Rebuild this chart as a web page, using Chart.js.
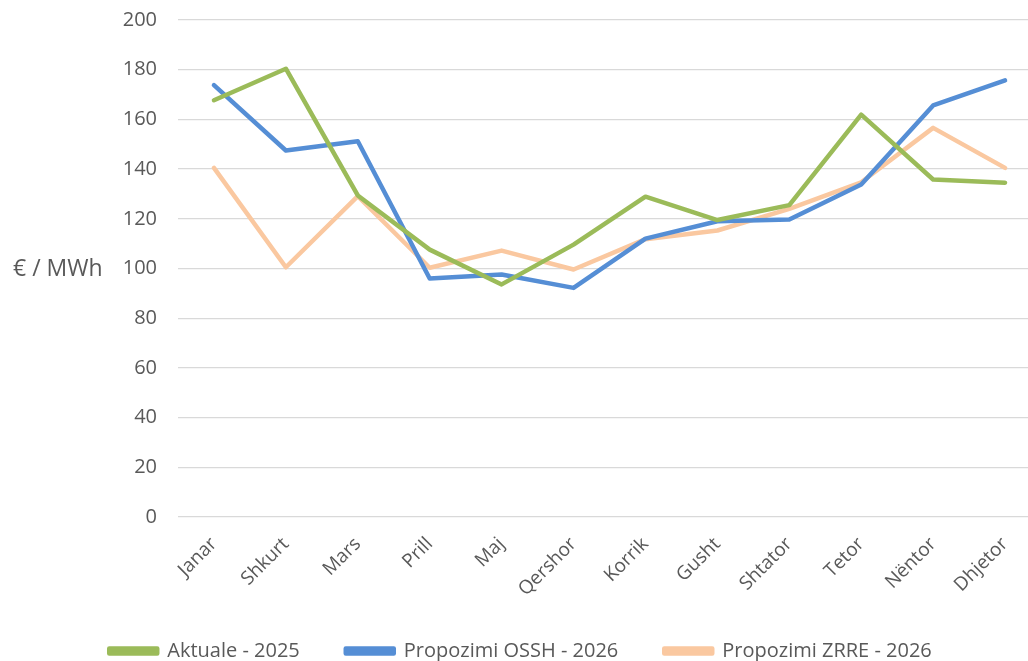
<!DOCTYPE html>
<html>
<head>
<meta charset="utf-8">
<script src="https://cdn.jsdelivr.net/npm/chart.js@4"></script>
<style>
    html, body { margin: 0; padding: 0; background: #fff; overflow: hidden; }
    .chart-box { position: relative; width: 1041px; height: 661px; }
</style>
</head>
<body>
<div class="chart-box"><canvas id="priceChart"></canvas></div>
<script>
// Months and monthly prices (€ / MWh)
const months = ['Janar', 'Shkurt', 'Mars', 'Prill', 'Maj', 'Qershor', 'Korrik', 'Gusht', 'Shtator', 'Tetor', 'Nëntor', 'Dhjetor'];
const aktuale2025 = [167.7, 180.4, 129.4, 107.6, 93.6, 109.6, 128.9, 119.5, 125.5, 161.9, 135.8, 134.5];
const ossh2026 = [173.8, 147.5, 151.2, 96.0, 97.6, 92.2, 112.0, 119.0, 119.7, 133.8, 165.6, 175.7];
const zrre2026 = [140.5, 100.5, 129.1, 100.3, 107.2, 99.6, 111.8, 115.3, 124.0, 134.7, 156.6, 140.5];
const yTicks = [0, 20, 40, 60, 80, 100, 120, 140, 160, 180, 200];

const fontFamily = "'Open Sans', sans-serif";
const textColor = '#595959';

// y axis title drawn horizontally on the left, like the original
const yTitle = {
    id: 'yTitle',
    afterDraw(chart) {
        const ctx = chart.ctx;
        const area = chart.chartArea;
        ctx.save();
        ctx.font = '23px ' + fontFamily;
        ctx.fillStyle = textColor;
        ctx.textAlign = 'left';
        ctx.textBaseline = 'middle';
        ctx.fillText('€ / MWh', 13, (area.top + area.bottom) / 2 + 1);
        ctx.restore();
    }
};

function lineSet(label, data, color) {
    return {
        label: label,
        data: data,
        borderColor: color,
        backgroundColor: color,
        borderWidth: 4.5,
        borderCapStyle: 'round',
        borderJoinStyle: 'round',
        pointRadius: 0,
        pointHoverRadius: 0,
        tension: 0,
        fill: false
    };
}

new Chart(document.getElementById('priceChart'), {
    type: 'line',
    data: {
        labels: months,
        datasets: [
            lineSet('Aktuale - 2025', aktuale2025, '#9bbb59'),
            lineSet('Propozimi OSSH - 2026', ossh2026, '#558ed5'),
            lineSet('Propozimi ZRRE - 2026', zrre2026, '#fac8a0')
        ]
    },
    options: {
        responsive: true,
        maintainAspectRatio: false,
        animation: false,
        layout: { padding: { top: 20, right: 0, bottom: -10, left: 0 } },
        plugins: {
            legend: {
                position: 'bottom',
                labels: {
                    color: textColor,
                    font: { family: fontFamily, size: 20 },
                    boxWidth: 48,
                    boxHeight: 5,
                    padding: 46
                }
            },
            tooltip: { enabled: false }
        },
        scales: {
            x: {
                offset: true,
                grid: { display: false },
                border: { display: false },
                ticks: {
                    color: textColor,
                    font: { family: fontFamily, size: 19 },
                    minRotation: 45,
                    maxRotation: 45,
                    padding: 8
                },
                afterFit(scale) { scale.height = 78; }
            },
            y: {
                min: 0,
                max: 200,
                afterBuildTicks(scale) {
                    scale.ticks = yTicks.map(v => ({ value: v }));
                },
                grid: { color: '#d9d9d9', lineWidth: 1.3, drawTicks: false },
                border: { display: false },
                ticks: {
                    color: textColor,
                    font: { family: fontFamily, size: 20 },
                    padding: 21
                },
                afterFit(scale) {
                    scale.width = 178;
                    scale.paddingTop = 0;
                }
            }
        }
    },
    plugins: [yTitle]
});
</script>
</body>
</html>
